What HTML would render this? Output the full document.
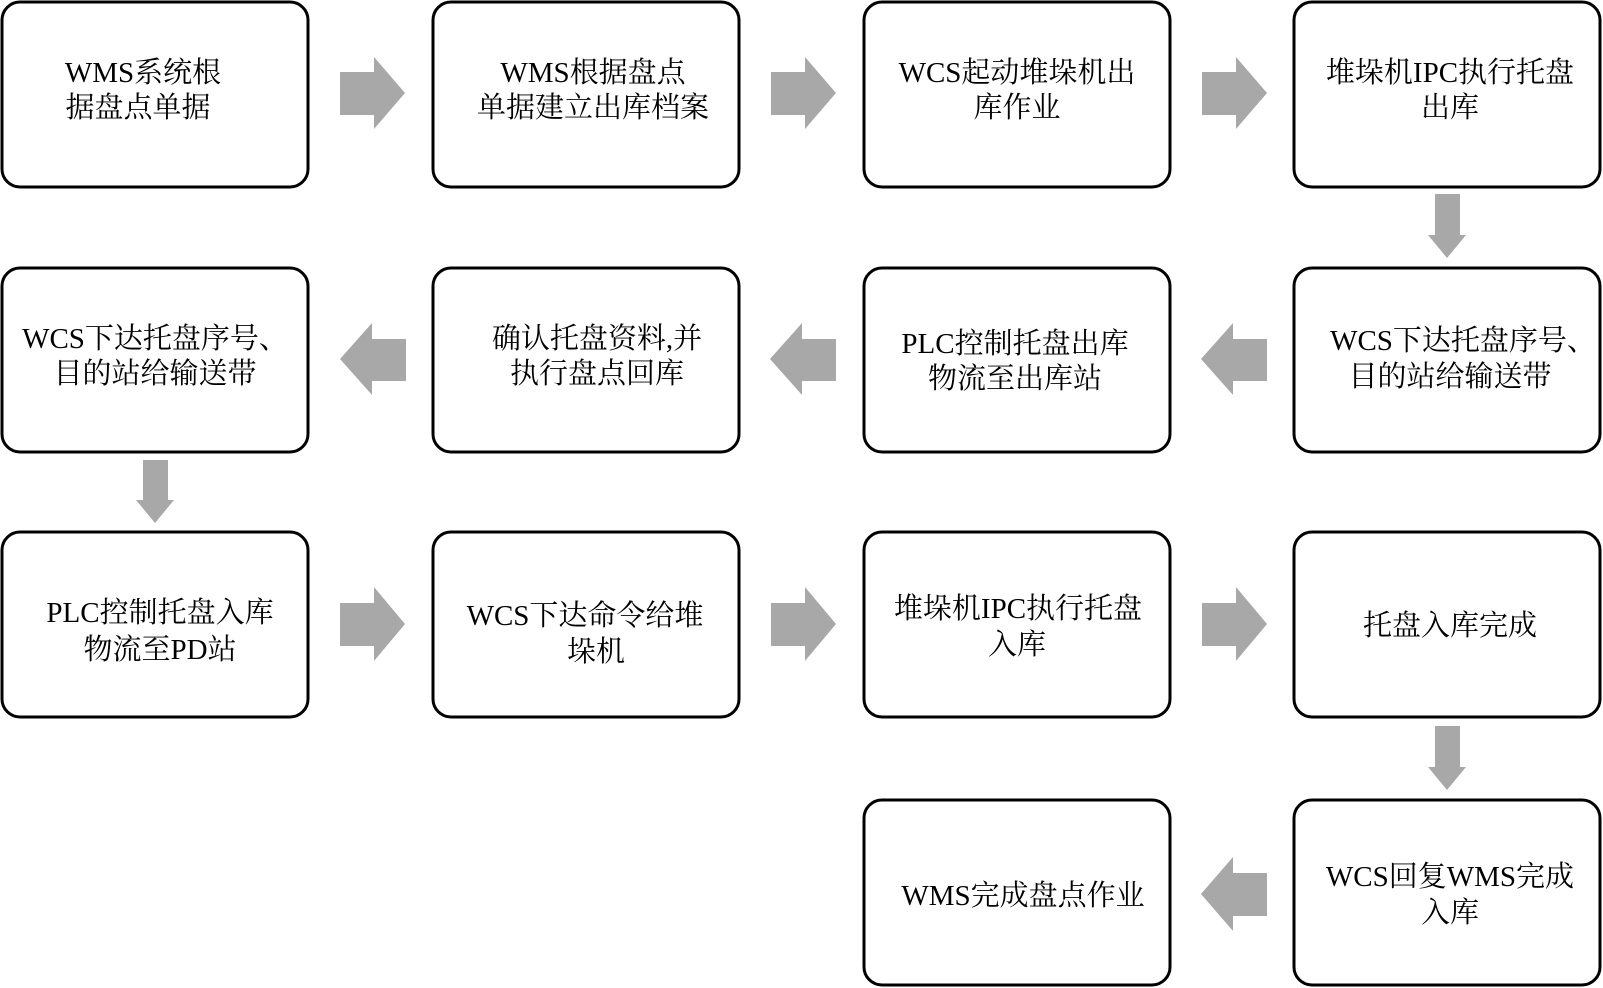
<!DOCTYPE html>
<html><head><meta charset="utf-8"><style>
html,body{margin:0;padding:0;background:#fff;}
svg{display:block}
text{font-family:"Liberation Serif","Noto Serif CJK SC",serif;font-size:29px;fill:#000;text-anchor:middle}
</style></head><body>
<svg width="1603" height="988" viewBox="0 0 1603 988" xmlns="http://www.w3.org/2000/svg">
<g fill="#fff" stroke="#000" stroke-width="3">
<rect x="2" y="2" width="306" height="185" rx="18"/>
<rect x="433" y="2" width="306" height="185" rx="18"/>
<rect x="864" y="2" width="306" height="185" rx="18"/>
<rect x="1294" y="2" width="306" height="185" rx="18"/>
<rect x="2" y="268" width="306" height="184" rx="18"/>
<rect x="433" y="268" width="306" height="184" rx="18"/>
<rect x="864" y="268" width="306" height="184" rx="18"/>
<rect x="1294" y="268" width="306" height="184" rx="18"/>
<rect x="2" y="532" width="306" height="185" rx="18"/>
<rect x="433" y="532" width="306" height="185" rx="18"/>
<rect x="864" y="532" width="306" height="185" rx="18"/>
<rect x="1294" y="532" width="306" height="185" rx="18"/>
<rect x="864" y="800" width="306" height="185" rx="18"/>
<rect x="1294" y="800" width="306" height="185" rx="18"/>
</g>
<g fill="#a8a8a8">
<!-- right arrows row1 -->
<polygon points="340,72 374,72 374,57 405,93 374,129 374,115 340,115"/>
<polygon points="771,72 805,72 805,57 836,93 805,129 805,115 771,115"/>
<polygon points="1202,72 1236,72 1236,57 1267,93 1236,129 1236,115 1202,115"/>
<!-- down col4 -->
<polygon points="1435,194 1460,194 1460,235 1466,235 1447,258 1428,235 1435,235"/>
<!-- left arrows row2 -->
<polygon points="406,339 372,339 372,323 340,359 372,395 372,381 406,381"/>
<polygon points="836,339 802,339 802,323 770,359 802,395 802,381 836,381"/>
<polygon points="1267,339 1233,339 1233,323 1201,359 1233,395 1233,381 1267,381"/>
<!-- down col1 -->
<polygon points="143,460 168,460 168,500 174,500 155,523 136,500 143,500"/>
<!-- right arrows row3 -->
<polygon points="340,603 374,603 374,587 405,624 374,661 374,646 340,646"/>
<polygon points="771,603 805,603 805,587 836,624 805,661 805,646 771,646"/>
<polygon points="1202,603 1236,603 1236,587 1267,624 1236,661 1236,646 1202,646"/>
<!-- down col4 -->
<polygon points="1435,726 1460,726 1460,767 1466,767 1447,790 1428,767 1435,767"/>
<!-- left arrow row4 -->
<polygon points="1267,873 1233,873 1233,857 1201,894 1233,931 1233,916 1267,916"/>
</g>
<text x="143" y="82">WMS系统根</text>
<text x="138" y="117">据盘点单据</text>
<text x="593" y="82">WMS根据盘点</text>
<text x="593" y="117">单据建立出库档案</text>
<text x="1017" y="82">WCS起动堆垛机出</text>
<text x="1017" y="117">库作业</text>
<text x="1450" y="82">堆垛机IPC执行托盘</text>
<text x="1450" y="117">出库</text>

<text x="155" y="348">WCS下达托盘序号、</text>
<text x="155" y="383">目的站给输送带</text>
<text x="597" y="348">确认托盘资料,并</text>
<text x="597" y="383">执行盘点回库</text>
<text x="1015" y="353">PLC控制托盘出库</text>
<text x="1015" y="388">物流至出库站</text>
<text x="1463" y="350">WCS下达托盘序号、</text>
<text x="1450" y="386">目的站给输送带</text>

<text x="160" y="622">PLC控制托盘入库</text>
<text x="160" y="659">物流至PD站</text>
<text x="585" y="625">WCS下达命令给堆</text>
<text x="596" y="661">垛机</text>
<text x="1018" y="618">堆垛机IPC执行托盘</text>
<text x="1017" y="654">入库</text>
<text x="1450" y="635">托盘入库完成</text>

<text x="1023" y="905">WMS完成盘点作业</text>
<text x="1450" y="886">WCS回复WMS完成</text>
<text x="1450" y="922">入库</text>
</svg>
</body></html>
